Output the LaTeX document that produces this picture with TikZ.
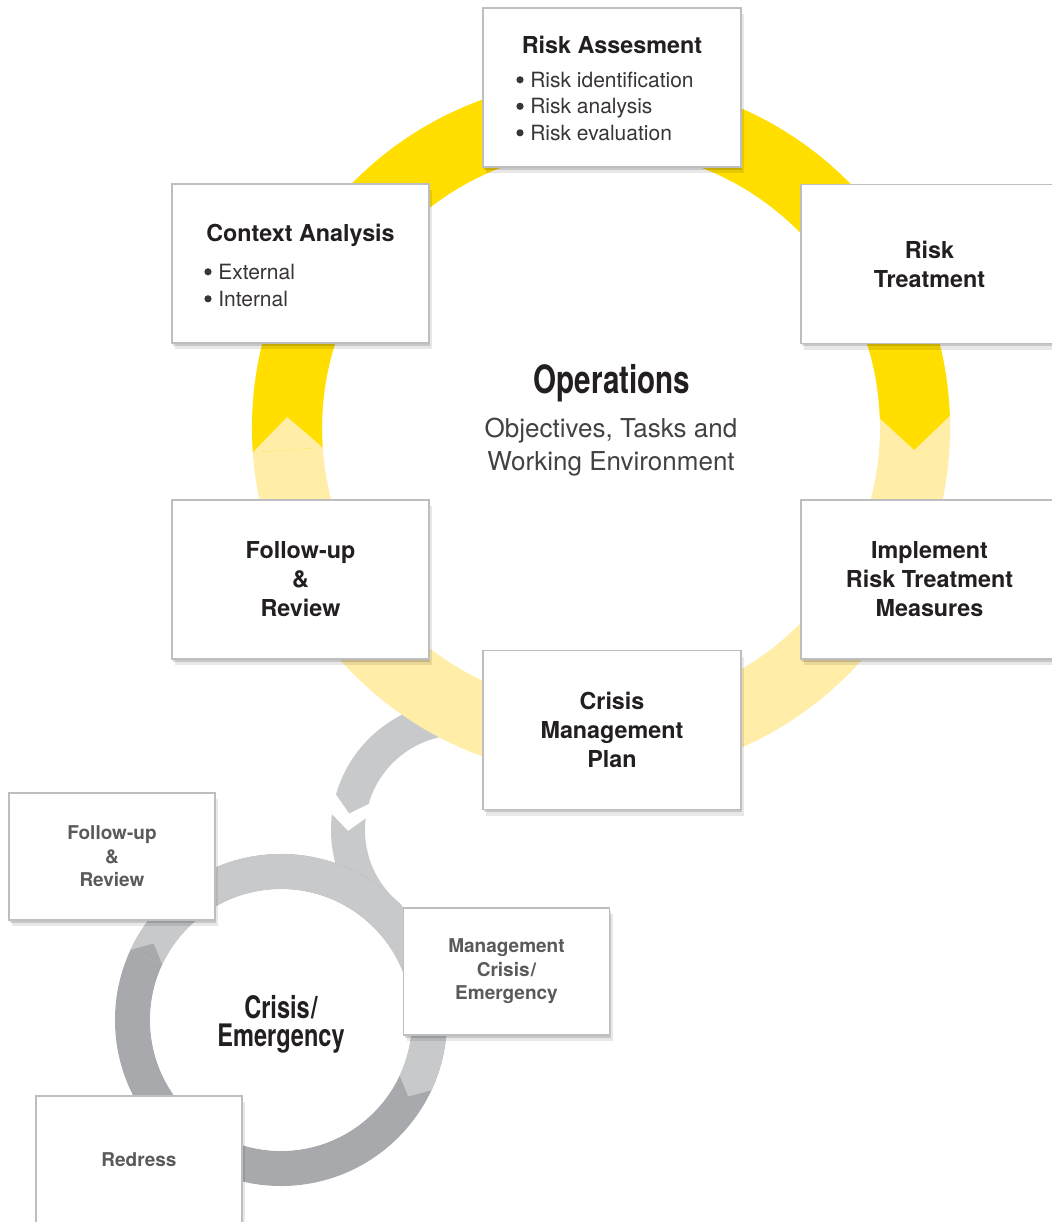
\documentclass[tikz,border=0pt]{standalone}
\usepackage{fontspec}
\setmainfont{TeX Gyre Heros}
\newfontfamily\condfont{TeX Gyre Heros}[FakeStretch=0.76]
\usetikzlibrary{shadows}
\definecolor{ylw}{HTML}{FFDE00}
\definecolor{lylw}{HTML}{FFEDA8}
\definecolor{lgry}{HTML}{C8C9CB}
\definecolor{dgry}{HTML}{A7A9AC}
\definecolor{bord}{HTML}{BDBEC0}
\definecolor{txt}{HTML}{231F20}
\definecolor{gtxt}{HTML}{595A5C}
\begin{document}
\begin{tikzpicture}[x=0.75pt,y=0.75pt,
  box/.style={draw=bord, line width=0.9pt, fill=white, inner sep=0pt,
    align=center, text=txt,
    drop shadow={shadow xshift=1pt, shadow yshift=-2pt, opacity=0.14, fill=black},
    drop shadow={shadow xshift=2.5pt, shadow yshift=-4.5pt, opacity=0.09, fill=black}},
  bigbox/.style={box, minimum width=192.75pt, minimum height=119.25pt,
    font=\fontsize{17.5}{21.75}\selectfont\bfseries},
  smallbox/.style={box, minimum width=154.5pt, minimum height=95.25pt, text=gtxt,
    font=\fontsize{14.25}{17.6}\selectfont\bfseries},
  ttl/.style={font=\fontsize{17.5}{21.75}\selectfont\bfseries, text=txt, anchor=base, inner sep=0pt},
  blt/.style={font=\fontsize{15.75}{19.9}\selectfont, text=txt!90, anchor=base west, inner sep=0pt},
  bdot/.style={fill=txt!90}
]
\useasboundingbox (0,0) rectangle (1052,-1222);

% connector between the rings
\begin{scope}[shift={(460,-830)}]
  \fill[lgry] (95:129) arc[start angle=95, end angle=164, radius=129]
     -- (171.5:112) -- (164:95) arc[start angle=164, end angle=95, radius=95] -- cycle;
  \fill[lgry] (173:129) arc[start angle=173, end angle=232, radius=129]
     -- (232:95) arc[start angle=232, end angle=173, radius=95] -- (180.5:112) -- cycle;
\end{scope}

% main ring
\begin{scope}[shift={(601,-428)}]
  \fill[lylw, even odd rule] (0,0) circle[radius=349] (0,0) circle[radius=279];
  \fill[ylw] (184:349) arc[start angle=184, end angle=2, radius=349]
     -- (-4:314) -- (2:279) arc[start angle=2, end angle=184, radius=279] -- cycle;
  \fill[lylw] (184:349) -- (178:314) -- (184:279) -- cycle;
\end{scope}

% small ring
\begin{scope}[shift={(281,-1020)}]
  \fill[dgry, even odd rule] (0,0) circle[radius=166] (0,0) circle[radius=131];
  \fill[lgry] (155:166) arc[start angle=155, end angle=-25, radius=166]
     -- (-31:148.5) -- (-25:131) arc[start angle=-25, end angle=155, radius=131] -- cycle;
  \fill[dgry] (155:166) -- (149:148.5) -- (155:131) -- cycle;
  \fill[white] (0,0) circle[radius=130.6];
\end{scope}

% main boxes
\node[bigbox, minimum width=193.5pt] (ra) at (612,-87.5) {};
\node[ttl] (raT) at (612,-53) {Risk Assesment};
\node[blt] (ra1) at (530,-87) {Risk identification};
\node[blt] (ra2) at (530,-113.5) {Risk analysis};
\node[blt] (ra3) at (530,-140) {Risk evaluation};
\foreach \n in {ra1,ra2,ra3} \fill[bdot] (\n.base west) ++(-10,7.2) circle[radius=3.6];

\node[bigbox] (ca) at (300.5,-263.5) {};
\node[ttl] (caT) at (300.5,-241.5) {Context Analysis};
\node[blt] (ca1) at (218,-279) {External};
\node[blt] (ca2) at (218,-306) {Internal};
\foreach \n in {ca1,ca2} \fill[bdot] (\n.base west) ++(-10,7.2) circle[radius=3.6];

\node[bigbox] (rt) at (929.5,-264) {Risk\\Treatment};
\node[bigbox] (fr) at (300.5,-579.5) {Follow-up\\\&\\Review};
\node[bigbox] (irt) at (929.5,-579.5) {Implement\\Risk Treatment\\Measures};
\node[bigbox, minimum width=193.5pt] (cmp) at (612,-730) {Crisis\\Management\\Plan};

% small boxes
\node[smallbox] (sfr) at (112,-856.5) {Follow-up\\\&\\Review};
\node[smallbox] (mce) at (506.5,-971.5) {Management\\Crisis\kern1pt/\\Emergency};
\node[smallbox] (red) at (139,-1159.5) {Redress};

% centre texts
\node[font=\condfont\bfseries\fontsize{29.25}{30}\selectfont, text=txt] (ops) at (612,-383) {Operations};
\node[font=\fontsize{19.5}{24.75}\selectfont, text=txt!85, align=center] (obj) at (611,-447.5)
  {Objectives, Tasks and\\Working Environment};
\node[font=\condfont\bfseries\fontsize{23.25}{21}\selectfont, text=txt, align=center] (ce) at (281,-1024)
  {Crisis\kern1pt/\\Emergency};
\end{tikzpicture}
\end{document}
